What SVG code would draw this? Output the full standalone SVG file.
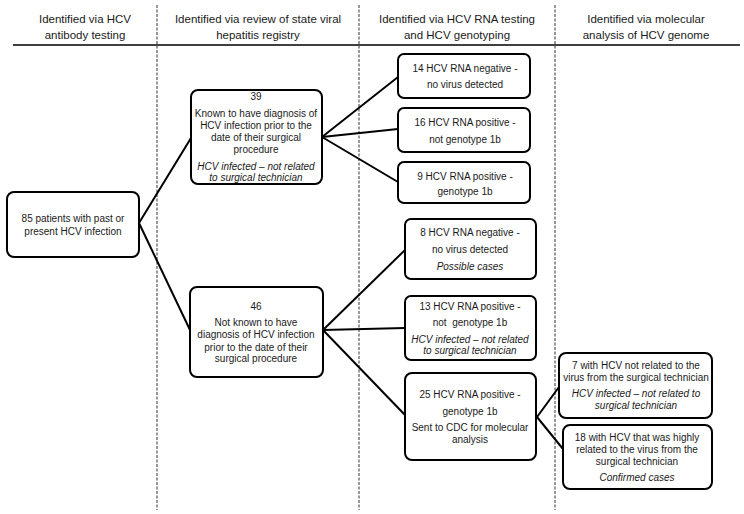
<svg xmlns="http://www.w3.org/2000/svg" width="744" height="514" viewBox="0 0 744 514">
<style>
text{font-family:"Liberation Sans",Arial,sans-serif;fill:#1a1a1a;text-anchor:middle}
.h{font-size:11.5px}
.t{font-size:10px}
.i{font-style:italic}
.box{fill:#fff;stroke:#000;stroke-width:2}
.conn{stroke:#000;stroke-width:2;fill:none}
.dash{stroke:#555;stroke-width:1.2;stroke-dasharray:3 1.5}
</style>
<rect width="744" height="514" fill="#fff"/>
<g id="grid">
<line x1="13" y1="45" x2="740" y2="45" stroke="#000" stroke-width="1.3"/>
<line class="dash" x1="157" y1="5" x2="157" y2="510"/>
<line class="dash" x1="359" y1="5" x2="359" y2="510"/>
<line class="dash" x1="555" y1="5" x2="555" y2="510"/>
</g>
<g id="headers">
<text class="h" x="85" y="23">Identified via HCV</text>
<text class="h" x="85" y="39">antibody testing</text>
<text class="h" x="258" y="23">Identified via review of state viral</text>
<text class="h" x="258" y="39">hepatitis registry</text>
<text class="h" x="457" y="23">Identified via HCV RNA testing</text>
<text class="h" x="457" y="39">and HCV genotyping</text>
<text class="h" x="646" y="23">Identified via molecular</text>
<text class="h" x="646" y="39">analysis of HCV genome</text>
</g>
<g id="connectors">
<line class="conn" x1="139" y1="223" x2="191" y2="138"/>
<line class="conn" x1="139" y1="223" x2="190" y2="330"/>
<line class="conn" x1="322" y1="137" x2="398" y2="77"/>
<line class="conn" x1="322" y1="137" x2="398" y2="129"/>
<line class="conn" x1="322" y1="137" x2="398" y2="182"/>
<line class="conn" x1="323" y1="330" x2="405" y2="250"/>
<line class="conn" x1="323" y1="330" x2="405" y2="328"/>
<line class="conn" x1="323" y1="330" x2="405" y2="415"/>
<line class="conn" x1="537" y1="417" x2="559" y2="387"/>
<line class="conn" x1="537" y1="417" x2="563" y2="449"/>
</g>
<g id="n85">
<rect class="box" x="7" y="192" width="132" height="65" rx="7"/>
<text class="t" x="73" y="222">85 patients with past or</text>
<text class="t" x="73" y="235">present HCV infection</text>
</g>
<g id="n39">
<rect class="box" x="191" y="90" width="131" height="94" rx="7"/>
<text class="t" x="256" y="100">39</text>
<text class="t" x="256" y="117">Known to have diagnosis of</text>
<text class="t" x="256" y="129">HCV infection prior to the</text>
<text class="t" x="256" y="141">date of their surgical</text>
<text class="t" x="256" y="153">procedure</text>
<text class="t i" x="256" y="170">HCV infected – not related</text>
<text class="t i" x="256" y="181">to surgical technician</text>
</g>
<g id="n46">
<rect class="box" x="190" y="287" width="133" height="90" rx="7"/>
<text class="t" x="256" y="310">46</text>
<text class="t" x="256" y="326">Not known to have</text>
<text class="t" x="256" y="338">diagnosis of HCV infection</text>
<text class="t" x="256" y="351">prior to the date of their</text>
<text class="t" x="256" y="362">surgical procedure</text>
</g>
<g id="n14">
<rect class="box" x="398" y="54" width="132" height="44" rx="6"/>
<text class="t" x="465" y="72">14 HCV RNA negative -</text>
<text class="t" x="465" y="88">no virus detected</text>
</g>
<g id="n16">
<rect class="box" x="398" y="108" width="132" height="44" rx="6"/>
<text class="t" x="465" y="126">16 HCV RNA positive -</text>
<text class="t" x="465" y="143">not genotype 1b</text>
</g>
<g id="n9">
<rect class="box" x="398" y="162" width="132" height="41" rx="6"/>
<text class="t" x="465" y="180">9 HCV RNA positive -</text>
<text class="t" x="465" y="195">genotype 1b</text>
</g>
<g id="n8">
<rect class="box" x="405" y="219" width="131" height="60" rx="6"/>
<text class="t" x="470" y="236">8 HCV RNA negative -</text>
<text class="t" x="470" y="253">no virus detected</text>
<text class="t i" x="470" y="270">Possible cases</text>
</g>
<g id="n13">
<rect class="box" x="405" y="296" width="131" height="64" rx="6"/>
<text class="t" x="470" y="310">13 HCV RNA positive -</text>
<text class="t" x="470" y="326" xml:space="preserve">not  genotype 1b</text>
<text class="t i" x="470" y="343">HCV infected – not related</text>
<text class="t i" x="470" y="354">to surgical technician</text>
</g>
<g id="n25">
<rect class="box" x="405" y="373" width="131" height="87" rx="7"/>
<text class="t" x="470" y="398">25 HCV RNA positive -</text>
<text class="t" x="470" y="415">genotype 1b</text>
<text class="t" x="470" y="431">Sent to CDC for molecular</text>
<text class="t" x="470" y="443">analysis</text>
</g>
<g id="n7">
<rect class="box" x="559" y="353" width="153" height="65" rx="7"/>
<text class="t" x="636" y="369">7 with HCV not related to the</text>
<text class="t" x="636" y="381">virus from the surgical technician</text>
<text class="t i" x="636" y="397">HCV infected – not related to</text>
<text class="t i" x="636" y="409">surgical technician</text>
</g>
<g id="n18">
<rect class="box" x="563" y="425" width="149" height="64" rx="7"/>
<text class="t" x="637" y="441">18 with HCV that was highly</text>
<text class="t" x="637" y="453">related to the virus from the</text>
<text class="t" x="637" y="465">surgical technician</text>
<text class="t i" x="637" y="481">Confirmed cases</text>
</g>
</svg>
